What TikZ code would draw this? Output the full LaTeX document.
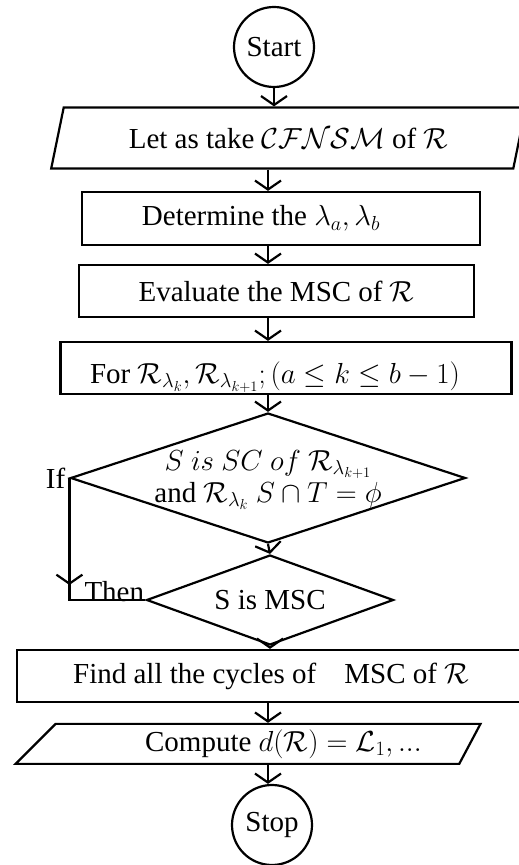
\RequirePackage{fix-cm}
\documentclass[tikz,border=0pt]{standalone}
\usepackage{amsmath,amssymb}
\usepackage{fontspec}
\setmainfont{Liberation Serif}
\usetikzlibrary{shapes.geometric, arrows.meta, calc}

\begin{document}
\begin{tikzpicture}[x=1pt, y=1pt, line width=2.2pt,
    every node/.style={font=\fontsize{29}{34}\selectfont},
    term/.style={draw, circle, minimum size=80pt, inner sep=0pt},
    proc/.style={draw, rectangle, minimum height=53pt, inner sep=2pt},
    io/.style={draw, trapezium, trapezium stretches=true, inner sep=2pt},
    dec/.style={draw, diamond, aspect=3, inner sep=0pt},
    arr/.style={-{Straight Barb[length=9pt, width=26pt]}}]
  \useasboundingbox (0,0) rectangle (519,865);
  \coordinate (axis) at (268,0);
  % main column
  \node[term] (start) at (274,818) {Start};
  \node[io, trapezium left angle=70, trapezium right angle=110,
        minimum width=477pt, minimum height=61pt] (take) at (288.5,727)
        {Let as take $\mathcal{CFNSM}$ of $\mathcal{R}$};
  \node[proc, minimum width=398pt] (det) at (281,646.5) {Determine the $\lambda_a, \lambda_b$\hspace*{40pt}};
  \node[proc, minimum width=395pt, minimum height=52pt] (eval) at (276.5,574) {Evaluate the MSC of $\mathcal{R}$};
  \node[proc, minimum width=451pt, minimum height=52pt] (forall) at (286,497)
        {\raisebox{-9pt}[\height][\depth]{For $\mathcal{R}_{\lambda_k}, \mathcal{R}_{\lambda_{k+1}}; (a \leq k \leq b-1)$}\hspace*{22pt}};
  \node[dec, minimum width=395pt, minimum height=130pt] (cond) at (268,387) {};
  \node[align=center, font=\fontsize{29}{32}\selectfont] (condtext) at ([yshift=-2pt]cond.center)
        {$S\ is\ SC\ of\ \mathcal{R}_{\lambda_{k+1}}$\\ and $\mathcal{R}_{\lambda_k}$ $S \cap T = \phi$};
  \node[dec, minimum width=247pt, minimum height=90pt] (msc) at (270,265) {S is MSC};
  \node[proc, minimum width=508pt, minimum height=52pt] (cyc) at (271,189)
        {Find all the cycles of\hspace{28pt}MSC of $\mathcal{R}$};
  \node[io, trapezium left angle=45, trapezium right angle=118,
        minimum width=465pt, minimum height=40pt, anchor=bottom left corner] (comp) at (13,100)
        {\hspace*{52pt}Compute $d(\mathcal{R}) = \mathcal{L}_1, ...$};
  \node[term] (stop) at (272,40) {Stop};
  % connectors
  \draw[arr] (start.south) -- (start.south |- take.north);
  \draw[arr] (take.south -| axis) -- (det.north -| axis);
  \draw[arr] (det.south -| axis) -- (eval.north -| axis);
  \draw[arr] (eval.south -| axis) -- (forall.north -| axis);
  \draw[arr] (forall.south -| axis) -- (cond.north);
  \draw[arr] (cond.south) -- (msc.north);
  \draw[arr] (msc.south) -- (msc.south |- cyc.north);
  \draw[arr] (cyc.south -| axis) -- (comp.north -| axis);
  \draw[arr] (comp.south -| axis) -- (axis |- stop.north);
  % if / then branch
  \coordinate (elbow) at (cond.west |- msc.west);
  \draw (cond.west) -- (elbow) -- (msc.west);
  \draw[arr] (cond.west) -- ([yshift=15pt]elbow);
  \node[anchor=east, inner sep=3pt] (iflbl) at (cond.west) {If};
  \node[anchor=base west, inner sep=0pt] (thenlbl) at ([xshift=14pt, yshift=-2pt]elbow) {Then};
\end{tikzpicture}
\end{document}
